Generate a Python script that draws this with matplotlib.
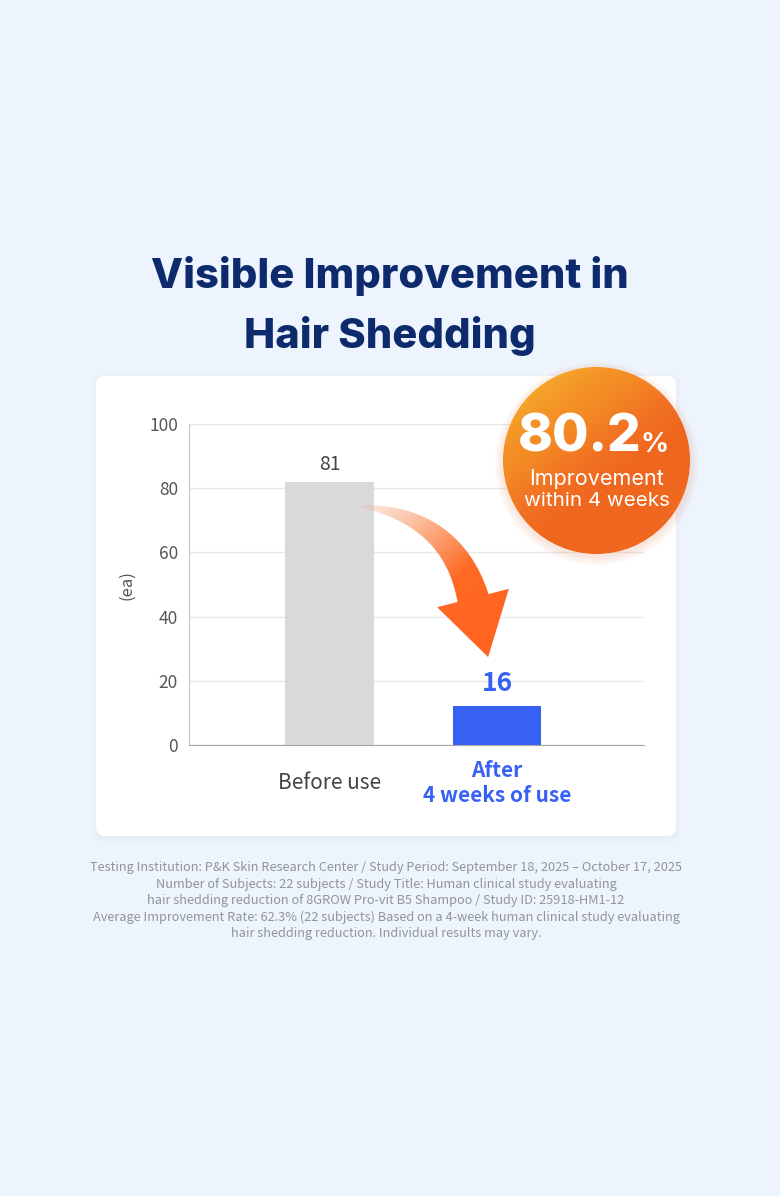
import numpy as np
import matplotlib
matplotlib.use("Agg")
import matplotlib.pyplot as plt
from matplotlib.patches import FancyBboxPatch, Circle, Polygon
from matplotlib.colors import LinearSegmentedColormap

# data
categories = ["Before use", "After\n4 weeks of use"]
bar_heights = [82, 12]          # drawn bar heights
bar_labels = ["81", "16"]
y_ticks = [0, 20, 40, 60, 80, 100]
badge_value = "80.2"
badge_lines = ["Improvement", "within 4 weeks"]
title_lines = ["Visible Improvement in", "Hair Shedding"]
footnote = [
    "Testing Institution: P&K Skin Research Center / Study Period: September 18, 2025 \u2013 October 17, 2025",
    "Number of Subjects: 22 subjects / Study Title: Human clinical study evaluating",
    "hair shedding reduction of 8GROW Pro-vit B5 Shampoo / Study ID: 25918-HM1-12",
    "Average Improvement Rate: 62.3% (22 subjects) Based on a 4-week human clinical study evaluating",
    "hair shedding reduction. Individual results may vary.",
]

W, H = 780, 1196
BG = "#eef4fd"
NAVY = "#0c2a6c"
BLUE = "#3761f3"
GREY_BAR = "#d9d9d9"
KR = ["Noto Sans CJK KR", "DejaVu Sans"]
INTER = ["Inter", "DejaVu Sans"]

fig = plt.figure(figsize=(W / 100, H / 100), dpi=100, facecolor=BG)


def px_axes(z):
    a = fig.add_axes([0, 0, 1, 1], zorder=z)
    a.set_xlim(0, W)
    a.set_ylim(H, 0)
    a.axis("off")
    a.patch.set_alpha(0)
    return a


def gradient_fill(ax, patch, colors, p0, p1, alphas=None):
    # linear gradient from point p0 to p1, clipped to patch
    xs = np.linspace(0, W, 400)
    ys = np.linspace(0, H, 600)
    X, Y = np.meshgrid(xs, ys)
    d = np.array(p1, float) - np.array(p0, float)
    t = ((X - p0[0]) * d[0] + (Y - p0[1]) * d[1]) / (d @ d)
    t = np.clip(t, 0, 1)
    cmap = LinearSegmentedColormap.from_list("g", colors)
    img = cmap(t)
    if alphas is not None:
        img[..., 3] = alphas[0] + (alphas[1] - alphas[0]) * np.clip(t * 1.6, 0, 1)
    im = ax.imshow(img, extent=(0, W, H, 0), origin="upper",
                   interpolation="bilinear", aspect="auto")
    im.set_clip_path(patch)


# background card
bg = px_axes(0)
for k in range(3):
    bg.add_patch(FancyBboxPatch((96 - k * 2, 376 - k * 2 + 2), 580 + k * 4, 460 + k * 4,
                                boxstyle="round,pad=0,rounding_size=10",
                                fc="#9fb3d6", ec="none", alpha=0.03))
bg.add_patch(FancyBboxPatch((96, 376), 580, 460, boxstyle="round,pad=0,rounding_size=9",
                            fc="white", ec="none"))

# title
for i, line in enumerate(title_lines):
    fig.text(0.5, 1 - (276 + 60 * i) / H, line, ha="center", va="center",
             fontsize=30, fontweight="heavy", color=NAVY, family=INTER)

# bar chart
ax = fig.add_axes([189 / W, 1 - 745 / H, (644 - 189) / W, (745 - 424) / H], zorder=1)
ax.patch.set_alpha(0)
x = np.arange(len(categories))
ax.bar(x, bar_heights, width=0.53, color=[GREY_BAR, BLUE], zorder=2)
ax.set_xlim(-0.839, 1.878)
ax.set_ylim(0, 100)
ax.set_yticks(y_ticks)
ax.set_yticklabels([str(v) for v in y_ticks], family=KR, fontsize=12.5, color="#555555")
ax.tick_params(axis="y", length=0, pad=8)
ax.set_xticks([])
ax.grid(axis="y", color="#e8e8e8", lw=1, zorder=0)
for s in ["top", "right"]:
    ax.spines[s].set_visible(False)
ax.spines["left"].set_color("#c4c4c4")
ax.spines["bottom"].set_color("#a6a6a6")
ax.set_ylabel("(ea)", family=KR, fontsize=12, color="#555555")
ax.yaxis.set_label_coords((135 - 189) / (644 - 189), (745 - 585) / (745 - 424))

ax.text(x[0], bar_heights[0] + 5.3, bar_labels[0], ha="center", va="center",
        family=KR, fontsize=14, color="#444444")
ax.text(x[1], bar_heights[1] + 7.2, bar_labels[1], ha="center", va="center",
        family=KR, fontsize=19, fontweight="bold", color=BLUE)

ax.text(x[0], -11.8, categories[0], ha="center", va="center", family=KR,
        fontsize=15, color="#444444", clip_on=False)
ax.text(x[1], -11.8, categories[1], ha="center", va="center", family=KR,
        fontsize=15, fontweight="bold", color=BLUE, linespacing=1.2, clip_on=False)

# arrow and badge on top
fg = px_axes(3)

p0, p1, p2 = np.array([360, 506.0]), np.array([452, 516.0]), np.array([473, 598.0])
s = np.linspace(0, 1, 80)[:, None]
pts = (1 - s) ** 2 * p0 + 2 * (1 - s) * s * p1 + s ** 2 * p2
tan = 2 * (1 - s) * (p1 - p0) + 2 * s * (p2 - p1)
tan = tan / np.linalg.norm(tan, axis=1, keepdims=True)
nrm = np.column_stack([-tan[:, 1], tan[:, 0]])
half = 16 * s[:, 0] ** 0.7
left = pts + nrm * half[:, None]
right = pts - nrm * half[:, None]
te, ne = tan[-1], nrm[-1]
head = [p2 + ne * 37, p2 + te * 61, p2 - ne * 37]
arrow_pts = np.vstack([left, [head[0]], [head[1]], [head[2]], right[::-1]])
arrow = Polygon(arrow_pts, closed=True, fc="none", ec="none")
fg.add_patch(arrow)
gradient_fill(fg, arrow, ["#f6b394", "#fa8a4e", "#ff6a25", "#ff6420"], (362, 506), (480, 640),
              alphas=(0.3, 1.0))

cx, cy, r = 596.5, 460.5, 93.5
for k in range(6):
    fg.add_patch(Circle((cx, cy + 3), r + 1 + k * 1.5, fc="#e8671f", ec="none", alpha=0.025))
badge = Circle((cx, cy), r, fc="none", ec="none")
fg.add_patch(badge)
gradient_fill(fg, badge, ["#fdbb34", "#fa9a2c", "#f77829", "#f5661f", "#f76c22"],
              (cx - 70, cy - 85), (cx + 55, cy + 80))

fg.text(580, 452, badge_value, ha="center", va="baseline", family=INTER,
        fontsize=38, fontweight="heavy", color="white")
fg.text(655, 452, "%", ha="center", va="baseline", family=INTER,
        fontsize=20, fontweight="bold", color="white")
fg.text(cx, 479, badge_lines[0], ha="center", va="center", family=INTER,
        fontsize=15.5, color="white")
fg.text(cx, 501, badge_lines[1], ha="center", va="center", family=INTER,
        fontsize=14.8, color="white")

# footnote
for i, line in enumerate(footnote):
    fig.text(386 / W, 1 - (868 + 16.3 * i) / H, line, ha="center", va="center",
             family=KR, fontsize=9.2, color="#8f949e")

fig.savefig("out.png", dpi=100, facecolor=BG)
